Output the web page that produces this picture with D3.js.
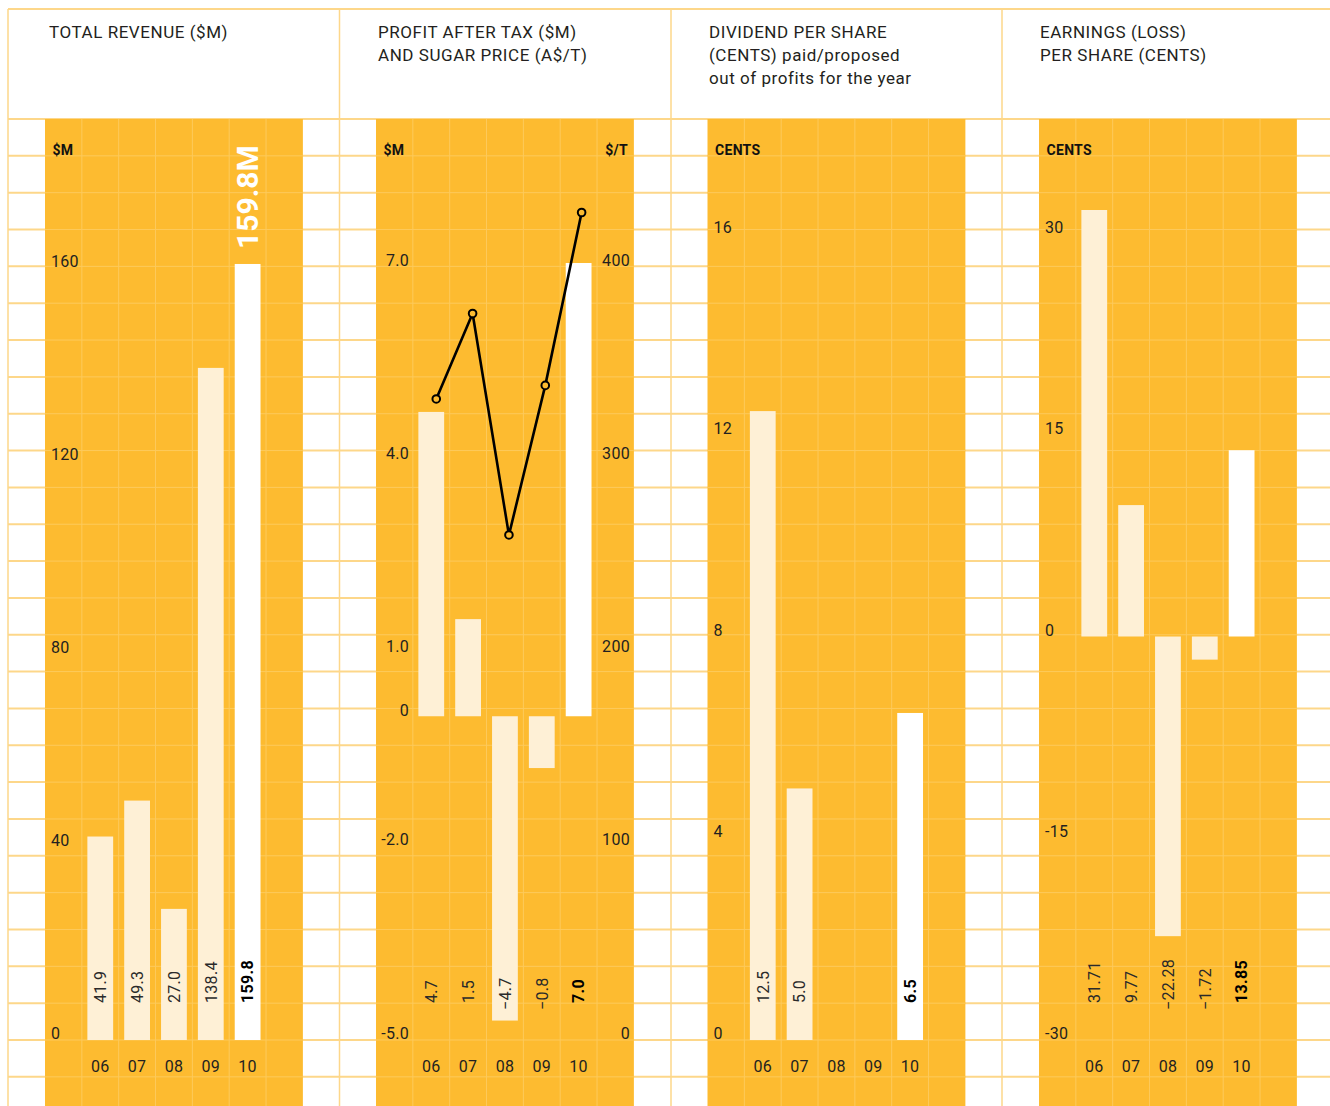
<!DOCTYPE html>
<html>
<head>
<meta charset="utf-8">
<script src="https://cdn.jsdelivr.net/npm/d3@7"></script>
<style>
  html, body { margin: 0; padding: 0; background: #fff; }
  svg { display: block; font-family: Roboto, "DejaVu Sans", sans-serif; }
</style>
</head>
<body>
<svg id="chart" width="1330" height="1106"></svg>
<script>
// ---- data -------------------------------------------------------------
const years = ["06", "07", "08", "09", "10"];
const revenue = [41.9, 49.3, 27.0, 138.4, 159.8];
const profitAfterTax = [4.7, 1.5, -4.7, -0.8, 7.0];
const sugarPrice = [330, 374, 260, 337, 426];
const dividendPerShare = [12.5, 5.0, null, null, 6.5];
const earningsPerShare = [31.71, 9.77, -22.28, -1.72, 13.85];

const revenueTicks = [0, 40, 80, 120, 160];
const revenueTickLabels = ["0", "40", "80", "120", "160"];
const profitTicks = [-5, -2, 0, 1, 4, 7];
const profitTickLabels = ["-5.0", "-2.0", "0", "1.0", "4.0", "7.0"];
const sugarTicks = [0, 100, 200, 300, 400];
const sugarTickLabels = ["0", "100", "200", "300", "400"];
const dividendTicks = [0, 4, 8, 12, 16];
const dividendTickLabels = ["0", "4", "8", "12", "16"];
const epsTicks = [-30, -15, 0, 15, 30];
const epsTickLabels = ["-30", "-15", "0", "15", "30"];

const revenueHeadline = "159.8M";

// ---- layout -----------------------------------------------------------
const W = 1330, H = 1106;
const ROW = 36.84;          // grid cell size
const GRID_TOP = 119;       // top of the plotting band
const BASE_Y = 1040;        // bottom value line of every panel
const PANEL_LEFT = [8, 339.5, 671, 1002];
const ORANGE_LEFT = [45, 376, 707.5, 1039];
const ORANGE_W = ROW * 7;

const C = {
  line: "#fdd78a",
  orange: "#fdbb30",
  orangeGrid: "#fdca5c",
  cream: "#fef0d6",
  text: "#231f20"
};

const svg = d3.select("#chart");
svg.append("rect").attr("width", W).attr("height", H).attr("fill", "#fff");

// white-area grid
const gridRows = d3.range(0, 27).map(k => GRID_TOP + k * ROW);
const outerGrid = svg.append("g");
outerGrid.selectAll("line.h")
  .data([9].concat(gridRows))
  .join("line")
  .attr("x1", 8).attr("x2", W)
  .attr("y1", d => d).attr("y2", d => d)
  .attr("stroke", C.line).attr("stroke-width", 2);
outerGrid.selectAll("line.v")
  .data(PANEL_LEFT)
  .join("line")
  .attr("x1", d => d).attr("x2", d => d)
  .attr("y1", 9).attr("y2", H)
  .attr("stroke", C.line).attr("stroke-width", 1.5);

// ---- panel definitions ------------------------------------------------
// top: where the domain maximum sits for the bars; axisTop: same for the tick labels
const panels = [
  {
    title: ["TOTAL REVENUE ($M)"], titleX: 49,
    unit: "$M", values: revenue, domain: [0, 160], top: 263, axisTop: 268,
    ticks: revenueTicks, tickLabels: revenueTickLabels, axisSide: "left-start",
    fmt: d3.format(".1f")
  },
  {
    title: ["PROFIT AFTER TAX ($M)", "AND SUGAR PRICE (A$/T)"], titleX: 378,
    unit: "$M", unitRight: "$/T", values: profitAfterTax, domain: [-5, 7], top: 263, axisTop: 267,
    ticks: profitTicks, tickLabels: profitTickLabels, axisSide: "left-end",
    rightDomain: [0, 400], rightTicks: sugarTicks, rightTickLabels: sugarTickLabels,
    line: sugarPrice,
    fmt: d3.format(".1f")
  },
  {
    title: ["DIVIDEND PER SHARE", "(CENTS) paid/proposed", "out of profits for the year"], titleX: 709,
    unit: "CENTS", values: dividendPerShare, domain: [0, 16], top: 235, axisTop: 234,
    ticks: dividendTicks, tickLabels: dividendTickLabels, axisSide: "left-start",
    fmt: d3.format(".1f")
  },
  {
    title: ["EARNINGS (LOSS)", "PER SHARE (CENTS)"], titleX: 1040,
    unit: "CENTS", values: earningsPerShare, domain: [-30, 30], top: 233, axisTop: 234,
    ticks: epsTicks, tickLabels: epsTickLabels, axisSide: "left-start",
    fmt: d3.format(".2f")
  }
];

panels.forEach((p, i) => {
  const ox = ORANGE_LEFT[i];
  const g = svg.append("g");

  // header
  g.append("text")
    .attr("x", p.titleX).attr("y", 38)
    .attr("font-size", 17).attr("letter-spacing", 0.55).attr("fill", C.text)
    .selectAll("tspan")
    .data(p.title)
    .join("tspan")
    .attr("x", p.titleX)
    .attr("y", (d, j) => 38 + j * 22.8)
    .text(d => d);

  // orange plotting column
  g.append("rect")
    .attr("x", ox).attr("y", GRID_TOP)
    .attr("width", ORANGE_W).attr("height", H - GRID_TOP)
    .attr("fill", C.orange);

  const inner = g.append("g");
  inner.selectAll("line.v")
    .data(d3.range(1, 7))
    .join("line")
    .attr("x1", j => ox + j * ROW).attr("x2", j => ox + j * ROW)
    .attr("y1", GRID_TOP).attr("y2", H)
    .attr("stroke", C.orangeGrid).attr("stroke-width", 1);
  inner.selectAll("line.h")
    .data(gridRows.slice(1))
    .join("line")
    .attr("x1", ox).attr("x2", ox + ORANGE_W)
    .attr("y1", d => d).attr("y2", d => d)
    .attr("stroke", C.orangeGrid).attr("stroke-width", 1);

  // scales
  const x = d3.scaleBand()
    .domain(years)
    .range([ox + ROW, ox + 6 * ROW])
    .paddingInner(0.3)
    .paddingOuter(0.15);
  const y = d3.scaleLinear().domain(p.domain).range([BASE_Y, p.top]);
  const yAxis = d3.scaleLinear().domain(p.domain).range([BASE_Y, p.axisTop]);
  const zero = y(Math.max(0, p.domain[0]));

  const rows = years.map((yr, j) => ({ year: yr, value: p.values[j], last: j === years.length - 1 }))
    .filter(d => d.value != null);

  // bars
  g.append("g").selectAll("rect")
    .data(rows)
    .join("rect")
    .attr("x", d => x(d.year))
    .attr("width", x.bandwidth())
    .attr("y", d => Math.min(y(d.value), zero))
    .attr("height", d => Math.abs(y(d.value) - zero))
    .attr("fill", d => d.last ? "#ffffff" : C.cream);

  // value labels along the foot of each bar
  g.append("g").selectAll("text")
    .data(rows)
    .join("text")
    .attr("transform", d => {
      const cx = x(d.year) + x.bandwidth() / 2;
      const sy = BASE_Y - 37 + (d.value < 0 ? 7 : 0);
      return `translate(${cx},${sy}) rotate(-90)`;
    })
    .attr("dy", "0.36em")
    .attr("font-size", 16)
    .attr("letter-spacing", 0.3)
    .attr("font-weight", d => d.last ? 700 : 400)
    .attr("fill", d => d.last ? "#000" : "#2a2a2a")
    .text(d => p.fmt(d.value));

  // unit labels
  g.append("text")
    .attr("x", ox + 7.5).attr("y", 155)
    .attr("font-size", 14).attr("font-weight", 700).attr("fill", "#111")
    .attr("letter-spacing", 0.3)
    .text(p.unit);
  if (p.unitRight) {
    g.append("text")
      .attr("x", ox + 252).attr("y", 155)
      .attr("text-anchor", "end")
      .attr("font-size", 14).attr("font-weight", 700).attr("fill", "#111")
      .attr("letter-spacing", 0.3)
      .text(p.unitRight);
  }

  // value axis
  const styleAxis = (sel) => {
    sel.select(".domain").remove();
    sel.selectAll(".tick line").remove();
    sel.selectAll(".tick text")
      .attr("dy", 0).attr("y", -2)
      .attr("font-size", 16).attr("fill", C.text)
      .attr("letter-spacing", 0.3)
      .attr("font-family", "Roboto, 'DejaVu Sans', sans-serif");
  };
  if (p.axisSide === "left-start") {
    g.append("g")
      .attr("transform", `translate(${ox + 6},0)`)
      .call(d3.axisRight(yAxis).tickValues(p.ticks).tickSize(0).tickPadding(0)
        .tickFormat((d, j) => p.tickLabels[j]))
      .call(styleAxis);
  } else {
    g.append("g")
      .attr("transform", `translate(${ox + 33},0)`)
      .call(d3.axisLeft(yAxis).tickValues(p.ticks).tickSize(0).tickPadding(0)
        .tickFormat((d, j) => p.tickLabels[j]))
      .call(styleAxis);
  }

  // sugar price on a second scale
  if (p.line) {
    const yr = d3.scaleLinear().domain(p.rightDomain).range([BASE_Y, p.top]);
    const yrAxis = d3.scaleLinear().domain(p.rightDomain).range([BASE_Y, p.axisTop]);
    g.append("g")
      .attr("transform", `translate(${ox + 254},0)`)
      .call(d3.axisLeft(yrAxis).tickValues(p.rightTicks).tickSize(0).tickPadding(0)
        .tickFormat((d, j) => p.rightTickLabels[j]))
      .call(styleAxis);

    const xp = d3.scalePoint()
      .domain(years)
      .range([ox + 1.5 * ROW + 5, ox + 5.5 * ROW + 3]);
    const pts = years.map((yrs, j) => ({ year: yrs, value: p.line[j] }));
    g.append("path")
      .datum(pts)
      .attr("fill", "none")
      .attr("stroke", "#000")
      .attr("stroke-width", 2.6)
      .attr("stroke-linejoin", "round")
      .attr("d", d3.line().x(d => xp(d.year)).y(d => yr(d.value)));
    g.append("g").selectAll("circle")
      .data(pts)
      .join("circle")
      .attr("cx", d => xp(d.year))
      .attr("cy", d => yr(d.value))
      .attr("r", 3.8)
      .attr("fill", C.orange)
      .attr("stroke", "#000")
      .attr("stroke-width", 2);
  }

  // year axis
  g.append("g")
    .attr("transform", `translate(0,${BASE_Y + 21})`)
    .call(d3.axisBottom(x).tickSize(0).tickPadding(0))
    .call(sel => {
      sel.select(".domain").remove();
      sel.selectAll(".tick text")
        .attr("font-size", 16).attr("fill", C.text)
        .attr("letter-spacing", 0.3)
        .attr("font-family", "Roboto, 'DejaVu Sans', sans-serif");
    });

  // headline figure above the latest revenue bar
  if (i === 0) {
    const last = rows[rows.length - 1];
    const cx = x(last.year) + x.bandwidth() / 2;
    g.append("text")
      .attr("transform", `translate(${cx},${y(last.value) - 15}) rotate(-90)`)
      .attr("dy", "0.36em")
      .attr("font-size", 30)
      .attr("font-weight", 700)
      .attr("fill", "#fff")
      .text(revenueHeadline);
  }
});
</script>
</body>
</html>
